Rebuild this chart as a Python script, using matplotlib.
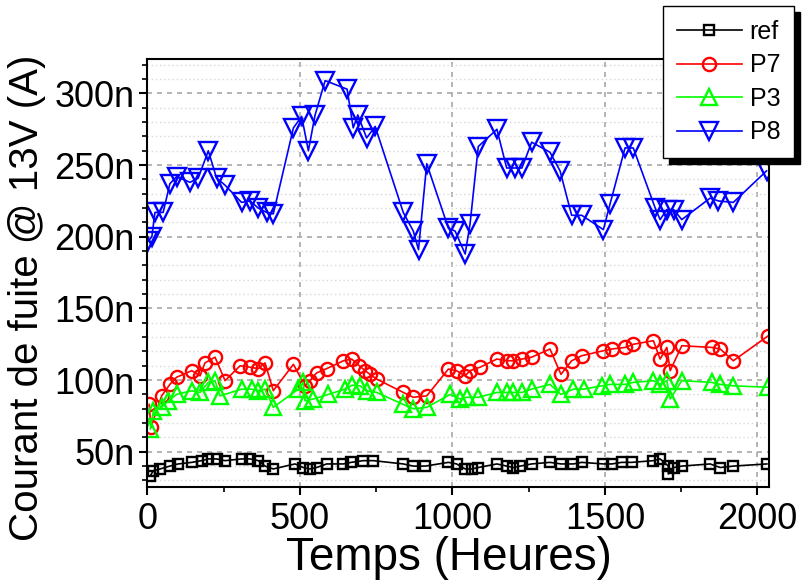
import matplotlib.pyplot as plt
from matplotlib.ticker import MultipleLocator, FuncFormatter

plt.rcParams['font.family'] = ['Liberation Sans', 'DejaVu Sans']

# temps (heures) et courant (nA)
ref_t = [10, 20, 42, 74, 101, 146, 178, 200, 227, 255, 309, 337, 364, 386, 413,
         484, 511, 533, 555, 588, 643, 668, 708, 741, 839, 872, 911, 987, 1014,
         1042, 1064, 1085, 1146, 1178, 1200, 1222, 1260, 1320, 1356, 1397, 1424,
         1495, 1523, 1555, 1588, 1659, 1681, 1708, 1708, 1725, 1752, 1845, 1878,
         1921, 2031]
ref_i = [33.3, 36.8, 38, 40, 41.5, 42.6, 43.8, 45, 45, 43.8, 45, 45, 43.8, 40, 38,
         41.5, 39, 38, 39, 41.5, 41.5, 42.6, 43.8, 43.8, 41.5, 40, 40, 42.6, 41.5,
         38, 38, 39, 41.5, 40, 39, 40, 41.5, 42.6, 41.5, 41.5, 42.6,
         41.5, 41.5, 42.6, 42.6, 43.8, 45, 40, 34.5, 39, 40, 41.5, 39,
         40, 41.5]

p7_t = [6, 12, 47, 74, 96, 146, 173, 189, 222, 255, 304, 337, 364, 386, 413,
        479, 517, 533, 555, 588, 643, 670, 695, 714, 730, 752, 839, 872, 916,
        987, 1014, 1042, 1058, 1091, 1146, 1178, 1200, 1228, 1260, 1320, 1356,
        1391, 1424, 1495, 1523, 1566, 1593, 1659, 1681, 1703, 1714, 1752, 1850,
        1878, 1921, 2036]
p7_i = [83, 67, 89, 97, 102, 106.6, 103, 112, 116, 99.6, 110, 109, 108, 112, 92.6,
        111, 96, 99.6, 105, 108, 113.5, 114.7, 110, 106.6, 104, 100.7, 91.4, 88, 89,
        107.7, 106.5, 103, 106.6, 109, 114.7, 113.5, 113.5, 114.7, 116, 121.7, 104,
        113.5, 117, 120.5, 121.7, 122.8, 125, 127.5, 114.7, 122.8, 106.6, 124, 122.8,
        121.7, 113.5, 131]

p3_t = [10, 20, 47, 69, 96, 146, 173, 200, 222, 238, 309, 342, 364, 386, 413,
        495, 511, 517, 544, 593, 648, 672, 697, 719, 752, 839, 872, 916,
        993, 1025, 1047, 1085, 1146, 1178, 1200, 1228, 1260, 1320, 1356, 1397,
        1430, 1490, 1517, 1566, 1593, 1659, 1681, 1703, 1714, 1752, 1850, 1878,
        1921, 2036]
p3_i = [66, 78.6, 81, 85.6, 90, 92.6, 91.4, 98.4, 99.6, 89, 93.7, 93.7, 92.6, 93.7, 81,
        93.7, 98.4, 85.6, 86.8, 90, 93.7, 96.5, 96, 92.6, 91.4, 83, 80, 81,
        90, 86.8, 88, 88, 91.4, 91.4, 91.4, 91.4, 93.7, 97, 90, 93.7,
        93.7, 96, 97, 97, 98.4, 99.6, 97, 99.6, 86.8, 99.6, 98.4, 97,
        96, 95]

p8_t = [3, 15, 25, 52, 74, 96, 140, 167, 200, 227, 255, 309, 337, 364, 391,
        413, 479, 506, 528, 550, 583, 655, 675, 690, 719, 747, 839, 872, 889, 916,
        987, 1009, 1042, 1058, 1085, 1146, 1178, 1205, 1228, 1260, 1320, 1353,
        1391, 1424, 1495, 1517, 1566, 1593, 1665, 1681, 1703, 1725, 1752, 1845,
        1872, 1921, 2030]
p8_i = [197, 200, 217, 217, 237, 242, 238, 241, 260, 241, 236, 224, 225, 220, 217,
        216, 276, 284, 260, 285, 309, 303, 276, 285, 269, 277, 217, 204, 191, 251,
        206, 204, 188, 209, 263, 275, 248, 248, 248, 266, 259, 246,
        215, 215, 205, 223, 262, 262, 220, 212, 219, 219, 212, 227,
        225, 224, 246]

fig = plt.figure(figsize=(8.04, 5.85), dpi=100)
ax = fig.add_axes([0.1832, 0.1675, 0.7733, 0.7315])

kw = dict(linewidth=1.2, markerfacecolor='none', markeredgewidth=1.7)
ax.plot(ref_t, ref_i, color='black', marker='s', markersize=7.5, label='ref', **kw)
ax.plot(p7_t, p7_i, color='#ff0000', marker='o', markersize=9.5, label='P7', **kw)
ax.plot(p3_t, p3_i, color='#00ff00', marker='^', markersize=11, label='P3', **kw)
ax.plot(p8_t, p8_i, color='#0000ff', marker='v', markersize=12.5, label='P8', **kw)

ax.set_xlim(0, 2038)
ax.set_ylim(25.4, 324)

ax.xaxis.set_major_locator(MultipleLocator(500))
ax.xaxis.set_minor_locator(MultipleLocator(250))
ax.yaxis.set_major_locator(MultipleLocator(50))
ax.yaxis.set_minor_locator(MultipleLocator(10))
ax.yaxis.set_major_formatter(FuncFormatter(lambda v, p: '%dn' % v))

ax.tick_params(which='major', direction='out', length=6, width=1.5, labelsize=26)
ax.tick_params(which='minor', direction='out', length=3.5, width=1.2)
ax.tick_params(axis='x', which='major', pad=5)
ax.tick_params(axis='y', which='major', pad=3)

ax.grid(which='major', color='#a8a8a8', linestyle=(0, (3, 3)), linewidth=1.2)
ax.grid(which='minor', axis='y', color='#d8d8d8', linestyle=(0, (1, 2)), linewidth=1)
ax.set_axisbelow(True)

for s in ax.spines.values():
    s.set_linewidth(1.5)

ax.set_xlabel('Temps (Heures)', fontsize=33)
ax.xaxis.set_label_coords(0.485, -0.115)
ax.set_ylabel('Courant de fuite @ 13V (A)', fontsize=29)
ax.yaxis.set_label_coords(-0.163, 0.442)

leg = fig.legend(loc='upper left', bbox_to_anchor=(663 / 804, 1 - 6 / 585),
                 fontsize=18, frameon=True, fancybox=False, framealpha=1,
                 edgecolor='black', borderaxespad=0, handlelength=2.6,
                 labelspacing=0.38, borderpad=0.55, handletextpad=0.32,
                 shadow={'ox': 4.5, 'oy': -4.5, 'color': 'black', 'alpha': 1})
leg.get_frame().set_linewidth(1)

fig.savefig('out.png', dpi=100)
